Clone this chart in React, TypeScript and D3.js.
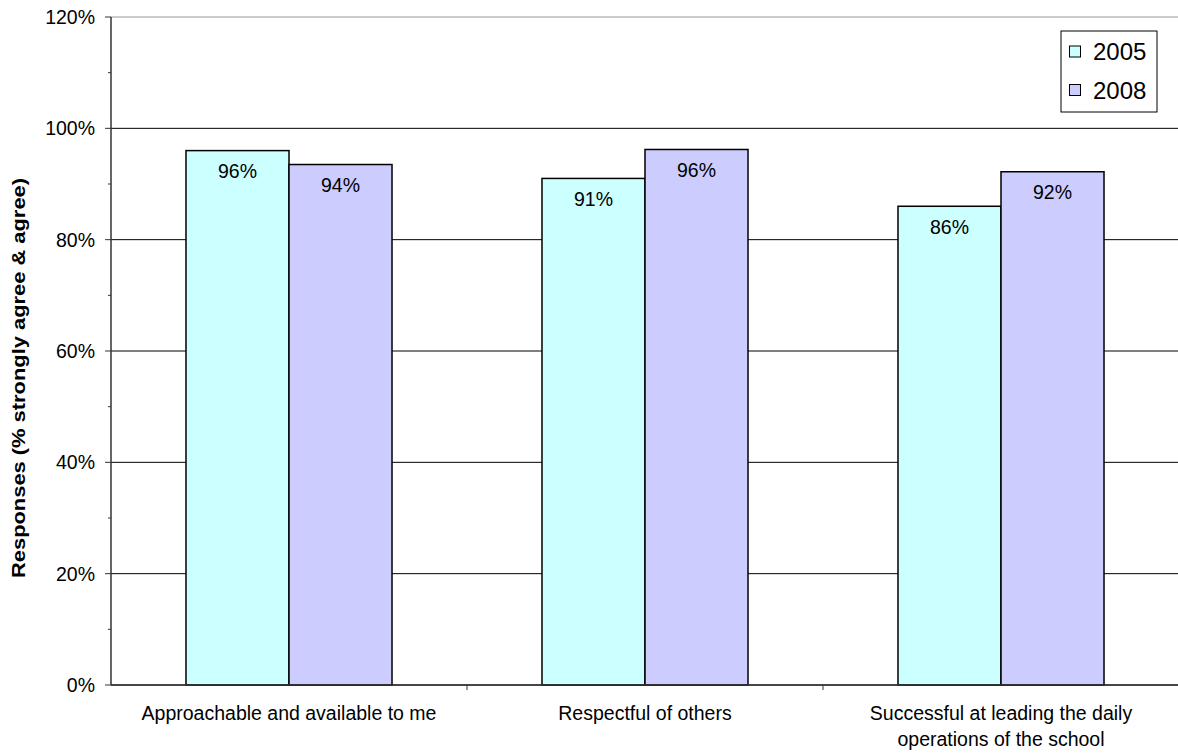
import React from "react";
import * as d3 from "d3";

const categories = [
  ["Approachable and available to me"],
  ["Respectful of others"],
  ["Successful at leading the daily", "operations of the school"],
];
const seriesNames = ["2005", "2008"];
const values2005 = [0.96, 0.91, 0.86];
const values2008 = [0.935, 0.962, 0.922];
const labels2005 = ["96%", "91%", "86%"];
const labels2008 = ["94%", "96%", "92%"];
const colors = ["#CCFFFF", "#CCCCFF"];
const yTicks = [0, 0.2, 0.4, 0.6, 0.8, 1.0, 1.2];
const yMinorTicks = [0.1, 0.3, 0.5, 0.7, 0.9, 1.1];

export default function App() {
  const W = 1178, H = 753;
  const left = 111, right = 1179, top = 17, bottom = 685;
  const font = "'Liberation Sans', Arial, sans-serif";
  const y = d3.scaleLinear().domain([0, 1.2]).range([bottom, top]);
  const x0 = d3.scaleBand<number>().domain([0, 1, 2]).range([left, right]).paddingInner(0).paddingOuter(0);
  const x1 = d3.scaleBand<number>().domain([0, 1]).range([0, x0.bandwidth()]).paddingInner(0).paddingOuter(0.728);
  const series = [values2005, values2008];
  const labels = [labels2005, labels2008];
  const fmt = d3.format(".0%");
  return (
    <svg width={W} height={H} style={{ position: "absolute", left: 0, top: 0, fontFamily: font }}>
      <rect width={W} height={H} fill="#fff" />
      {/* gridlines */}
      {yTicks.map((t) => (
        <line key={t} x1={left} x2={right} y1={y(t)} y2={y(t)} stroke={t === 1.2 ? "#999" : "#000"} strokeWidth={1} />
      ))}
      {/* bars */}
      {series.map((vals, s) =>
        vals.map((v, i) => {
          const bx = (x0(i) as number) + (x1(s) as number);
          return (
            <g key={`${s}-${i}`}>
              <rect x={bx} y={y(v)} width={x1.bandwidth()} height={bottom - y(v)} fill={colors[s]} stroke="#000" strokeWidth={1.5} />
              <text x={bx + x1.bandwidth() / 2} y={y(v) + 27.5} textAnchor="middle" fontSize={19.5} fill="#000">{labels[s][i]}</text>
            </g>
          );
        })
      )}
      {/* y axis */}
      <line x1={left} x2={left} y1={top} y2={bottom} stroke="#333" strokeWidth={1.5} />
      {yTicks.map((t) => (
        <g key={"yt" + t}>
          <line x1={left - 6} x2={left} y1={y(t)} y2={y(t)} stroke="#333" />
          <text x={95} y={y(t) + 7} textAnchor="end" fontSize={19.5} fill="#000">{fmt(t)}</text>
        </g>
      ))}
      {yMinorTicks.map((t) => (
        <line key={"ym" + t} x1={left - 3} x2={left} y1={y(t)} y2={y(t)} stroke="#333" />
      ))}
      {/* x axis */}
      <line x1={left} x2={right} y1={bottom} y2={bottom} stroke="#333" strokeWidth={1.5} />
      {[1, 2, 3].map((i) => (
        <line key={"xt" + i} x1={left + i * x0.step()} x2={left + i * x0.step()} y1={bottom} y2={bottom + 5} stroke="#333" />
      ))}
      {categories.map((lines, i) => (
        <text key={"c" + i} x={(x0(i) as number) + x0.bandwidth() / 2} y={720} textAnchor="middle" fontSize={19.5} fill="#000">
          {lines.map((l, j) => (
            <tspan key={j} x={(x0(i) as number) + x0.bandwidth() / 2} dy={j === 0 ? 0 : 26}>{l}</tspan>
          ))}
        </text>
      ))}
      {/* y title */}
      <text transform={`translate(25,378) rotate(-90)`} textAnchor="middle" fontSize={18} fontWeight="bold" fill="#000"
        textLength={400} lengthAdjust="spacingAndGlyphs">
        Responses (% strongly agree &amp; agree)
      </text>
      {/* legend */}
      <rect x={1061} y={31} width={96} height={81} fill="#fff" stroke="#000" strokeWidth={1} />
      {seriesNames.map((n, i) => (
        <g key={n}>
          <rect x={1069.5} y={46 + i * 38.5} width={11} height={11} fill={colors[i]} stroke="#000" strokeWidth={1} />
          <text x={1093} y={60 + i * 38.5} fontSize={24} fill="#000">{n}</text>
        </g>
      ))}
    </svg>
  );
}
